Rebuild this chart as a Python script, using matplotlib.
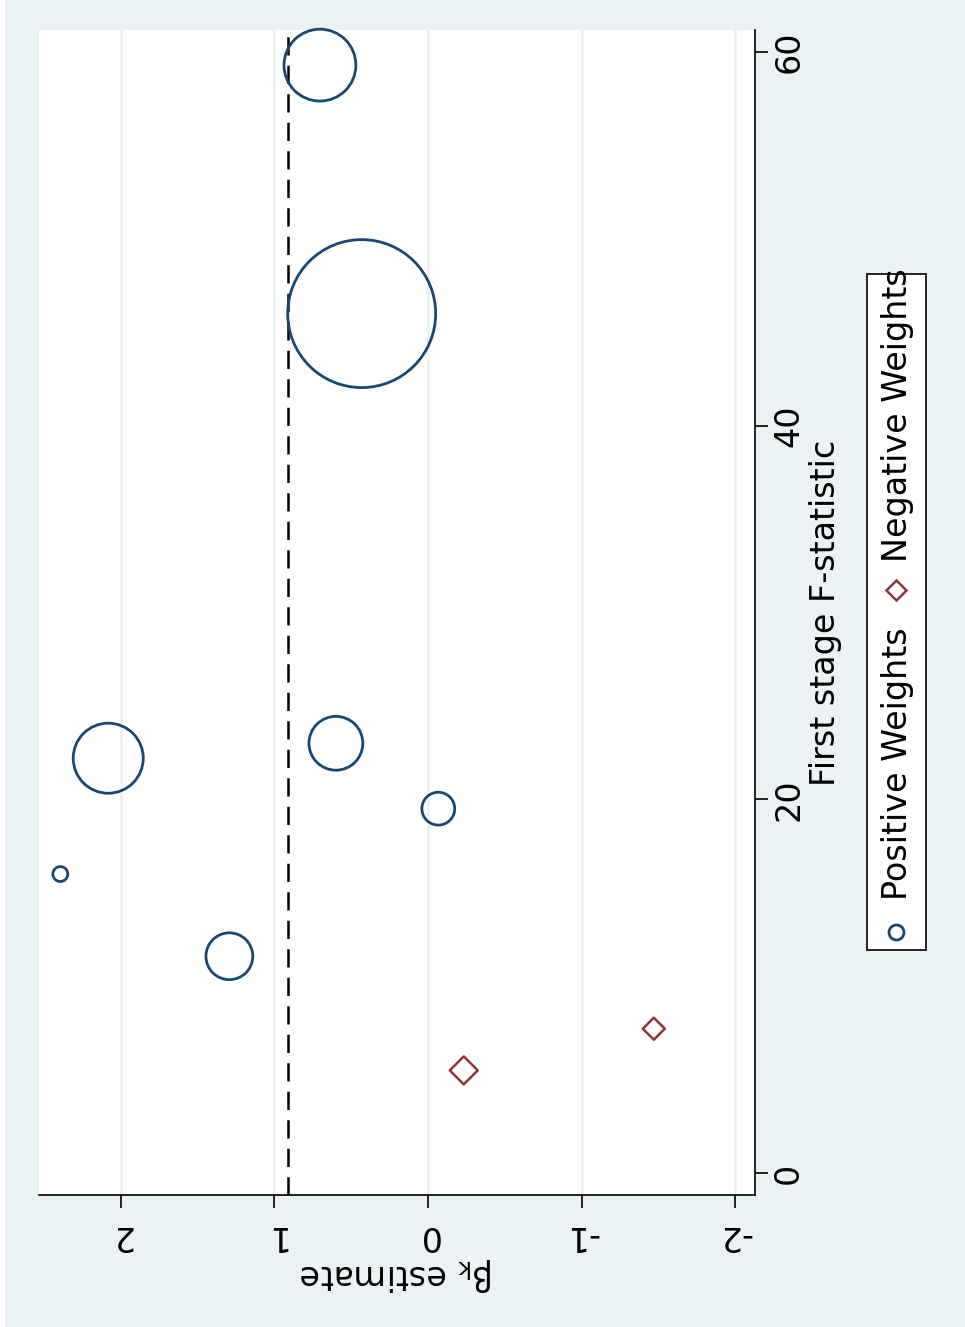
import numpy as np
import matplotlib
matplotlib.use("Agg")
import matplotlib.pyplot as plt
from matplotlib.patches import Rectangle
from matplotlib.lines import Line2D

# Instrument-level estimates, first stage strength and weights
pos_beta = [0.704, 0.432, 2.083, 0.600, -0.067, 2.395, 1.294]
pos_fstat = [59.3, 46.0, 22.2, 23.0, 19.5, 16.0, 11.6]
pos_weight = [0.139, 0.589, 0.132, 0.078, 0.029, 0.006, 0.059]

neg_beta = [-0.233, -1.471]
neg_fstat = [5.49, 7.72]
neg_weight = [-0.021, -0.013]

beta_overall = 0.91

beta_ticks = [-2, -1, 0, 1, 2]
fstat_ticks = [0, 20, 40, 60]

# Stata s2color look
BG = '#EAF2F3'
NAVY = '#1A476F'
MAROON = '#90353B'
FS = 24
W, H = 965, 1327

plt.rcParams['font.family'] = ['DejaVu Sans']
plt.rcParams['axes.unicode_minus'] = False
plt.rcParams['mathtext.fontset'] = 'dejavusans'

fig = plt.figure(figsize=(W / 100, H / 100), dpi=100)
fig.patch.set_facecolor('white')
fig.add_artist(Rectangle((5 / W, 0), 1, 1, transform=fig.transFigure,
                         facecolor=BG, edgecolor='none', zorder=-1))

# plot region in pixels: left 39, right 755, top 30, bottom 1195
ax = fig.add_axes([39 / W, (H - 1195) / H, 716 / W, 1165 / H])
ax.set_facecolor('white')

# the graph is turned a quarter: beta runs right-to-left along the bottom,
# the F-statistic runs upward along the right side
ax.set_xlim(2.534, -2.130)
ax.set_ylim(-1.18, 61.18)

for side in ['left', 'top']:
    ax.spines[side].set_visible(False)
for side in ['right', 'bottom']:
    ax.spines[side].set_linewidth(1.2)
    ax.spines[side].set_color('black')

for b in beta_ticks:
    ax.axvline(b, color=BG, lw=2.0, zorder=1)

ax.axvline(beta_overall, color='black', lw=1.8, dashes=(7.3, 4.1), zorder=2)

K = 19270  # marker area per unit weight (pt^2)
ax.scatter(pos_beta, pos_fstat, s=np.array(pos_weight) * K, facecolors='none',
           edgecolors=NAVY, linewidths=2.0, zorder=3, clip_on=False)
ax.scatter(neg_beta, neg_fstat, s=np.abs(neg_weight) * K / 2, marker='D',
           facecolors='none', edgecolors=MAROON, linewidths=1.8, zorder=3,
           clip_on=False)

ax.set_xticks(beta_ticks)
ax.set_xticklabels([str(t) for t in beta_ticks])
ax.set_yticks(fstat_ticks)
ax.set_yticklabels([str(t) for t in fstat_ticks])

ax.tick_params(axis='x', length=9.4, width=1.2, labelsize=FS, pad=8,
               labelrotation=180)
ax.tick_params(axis='y', left=False, right=True, labelleft=False,
               labelright=True, length=9.4, width=1.2, labelsize=FS, pad=3,
               labelrotation=90)
for lab in ax.get_yticklabels():
    lab.set_va('center')

# axis titles
ax.set_xlabel(r'$\mathregular{β_k}$ estimate', fontsize=FS, rotation=180)
ax.xaxis.label.set_va('center')
ax.xaxis.set_label_coords(0.5, -(1274 - 1195) / 1165)

ax.yaxis.set_label_position('right')
ax.set_ylabel('First stage F-statistic', fontsize=FS, rotation=90)
ax.yaxis.label.set_va('center')
ax.yaxis.label.set_ha('center')
ax.yaxis.set_label_coords((825 - 39) / 716, 0.5)

# legend, turned with the rest of the graph
fig.add_artist(Rectangle((867 / W, (H - 950) / H), 59 / W, 676 / H,
                         transform=fig.transFigure, facecolor='white',
                         edgecolor='black', lw=1.2, zorder=4))
fig.add_artist(Line2D([896 / W], [(H - 932) / H], transform=fig.transFigure,
                      marker='o', markersize=10.8, markerfacecolor='none',
                      markeredgecolor=NAVY, markeredgewidth=2.0, zorder=5))
fig.add_artist(Line2D([896 / W], [(H - 590) / H], transform=fig.transFigure,
                      marker='D', markersize=10.6, markerfacecolor='none',
                      markeredgecolor=MAROON, markeredgewidth=1.8, zorder=5))
fig.text(897 / W, (H - 900) / H, 'Positive Weights', fontsize=FS,
         rotation=90, ha='center', va='bottom', zorder=6)
fig.text(897 / W, (H - 562) / H, 'Negative Weights', fontsize=FS,
         rotation=90, ha='center', va='bottom', zorder=6)

fig.savefig('out.png', dpi=100)
